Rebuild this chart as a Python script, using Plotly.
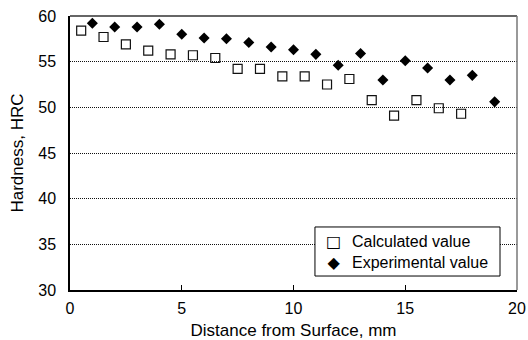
import plotly.graph_objects as go

# Hardness profile vs depth below the surface
calc_depth = [0.5, 1.5, 2.5, 3.5, 4.5, 5.5, 6.5, 7.5, 8.5, 9.5,
              10.5, 11.5, 12.5, 13.5, 14.5, 15.5, 16.5, 17.5]
calc_hrc = [58.4, 57.7, 56.9, 56.2, 55.8, 55.7, 55.4, 54.2, 54.2, 53.4,
            53.4, 52.5, 53.1, 50.8, 49.1, 50.8, 49.9, 49.3]

exp_depth = [1, 2, 3, 4, 5, 6, 7, 8, 9, 10,
             11, 12, 13, 14, 15, 16, 17, 18, 19]
exp_hrc = [59.2, 58.8, 58.8, 59.1, 58.0, 57.6, 57.5, 57.1, 56.6, 56.3,
           55.8, 54.6, 55.9, 53.0, 55.1, 54.3, 53.0, 53.5, 50.6]

x_ticks = [0, 5, 10, 15, 20]
y_ticks = [30, 35, 40, 45, 50, 55, 60]

series_names = ["Calculated value", "Experimental value"]
legend_glyphs = ["\u25a1", "\u25c6"]

FONT = "Liberation Sans, Arial, sans-serif"

fig = go.Figure()
fig.add_trace(go.Scatter(
    x=calc_depth, y=calc_hrc, mode="markers", name=series_names[0],
    marker=dict(symbol="square-open", size=9, color="#111111",
                line=dict(width=1.2, color="#111111")),
))
fig.add_trace(go.Scatter(
    x=exp_depth, y=exp_hrc, mode="markers", name=series_names[1],
    marker=dict(symbol="diamond", size=8.5, color="#000000",
                line=dict(width=0)),
))

# Compact boxed key in the lower right: one column of symbols, one of names
key_mid_y = 0.1405
annotations = [
    dict(xref="paper", yref="paper", x=0.5906, y=key_mid_y,
         xanchor="center", yanchor="middle", align="center",
         text="<br>".join(legend_glyphs), showarrow=False,
         font=dict(family="DejaVu Sans, sans-serif", size=16, color="#000000")),
    dict(xref="paper", yref="paper", x=0.6270, y=key_mid_y,
         xanchor="left", yanchor="middle", align="left",
         text="<br>".join(series_names), showarrow=False,
         font=dict(family=FONT, size=16, color="#000000")),
]

fig.update_layout(
    width=528, height=340,
    margin=dict(l=70, r=11, t=16, b=50),
    paper_bgcolor="white", plot_bgcolor="white",
    font=dict(family=FONT, size=16, color="#000000"),
    showlegend=False,
    xaxis=dict(
        range=[0, 20], tickvals=x_ticks, ticktext=[str(v) for v in x_ticks],
        showgrid=False, zeroline=False, automargin=False,
        showline=True, linecolor="#000000", linewidth=1.5,
        ticks="inside", ticklen=5, tickcolor="#000000",
        tickfont=dict(size=16), ticklabelstandoff=3,
        title=dict(text="Distance from Surface, mm", font=dict(size=17), standoff=9),
    ),
    yaxis=dict(
        range=[30, 60], tickvals=y_ticks, ticktext=[str(v) for v in y_ticks],
        showgrid=True, gridcolor="#111111", gridwidth=1, griddash="1px,1px",
        zeroline=False, automargin=False,
        showline=True, linecolor="#000000", linewidth=1.5,
        ticks="", tickfont=dict(size=16), ticklabelstandoff=9,
        title=dict(text="Hardness, HRC", font=dict(size=17), standoff=10),
    ),
    shapes=[
        dict(type="line", xref="paper", yref="paper", x0=0, x1=1, y0=1, y1=1,
             line=dict(color="#333333", width=1.5)),
        dict(type="line", xref="paper", yref="paper", x0=1, x1=1, y0=0, y1=1,
             line=dict(color="#777777", width=1.5)),
        dict(type="rect", xref="paper", yref="paper", x0=0.548, x1=0.962,
             y0=0.051, y1=0.230, fillcolor="white",
             line=dict(color="#000000", width=1), layer="above"),
    ],
    annotations=annotations,
)

fig.write_html("out.html")
